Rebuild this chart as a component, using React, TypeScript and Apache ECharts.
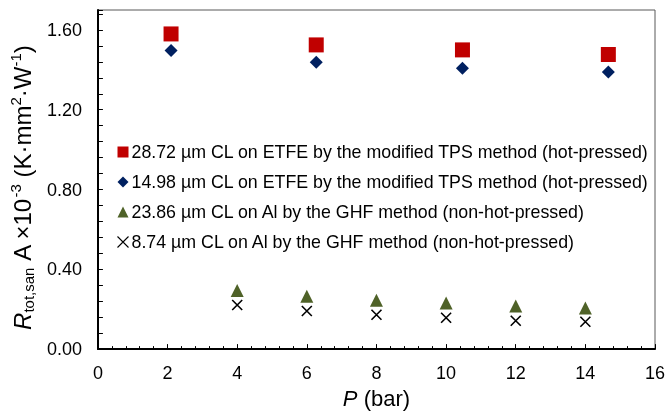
import React, { useEffect, useRef } from "react";
import * as echarts from "echarts";

const seriesNames = [
  "28.72 µm CL on ETFE by the modified TPS method (hot-pressed)",
  "14.98 µm CL on ETFE by the modified TPS method (hot-pressed)",
  "23.86 µm CL on Al by the GHF method (non-hot-pressed)",
  "8.74 µm CL on Al by the GHF method (non-hot-pressed)",
];
const etfeP = [2.1, 6.27, 10.47, 14.66];
const etfe2872 = [1.58, 1.525, 1.5, 1.477];
const etfe1498 = [1.497, 1.438, 1.408, 1.389];
const alP = [4, 6, 8, 10, 12, 14];
const al2386 = [0.294, 0.265, 0.245, 0.231, 0.216, 0.206];
const al874 = [0.221, 0.191, 0.172, 0.157, 0.142, 0.137];

const FONT = "'Liberation Sans', Arial, sans-serif";
const crossPath = "path://M0,0L10,10M10,0L0,10";

function pairs(xs: number[], ys: number[]) {
  return xs.map((x, i) => [x, ys[i]]);
}

export default function App() {
  const ref = useRef<HTMLDivElement>(null);
  useEffect(() => {
    if (!ref.current) return;
    const chart = echarts.init(ref.current, null, { renderer: "svg" });
    chart.setOption({
      animation: false,
      textStyle: { fontFamily: FONT },
      grid: {
        left: 94,
        width: 561,
        top: 10,
        height: 346,
        show: true,
        borderColor: "#595959",
        borderWidth: 1,
      },
      legend: {
        orient: "vertical",
        left: 115,
        top: 143,
        padding: 0,
        itemWidth: 11,
        itemHeight: 11,
        itemGap: 12,
        textStyle: { fontSize: 17.8, color: "#000", fontFamily: FONT, padding: [0, 0, 0, -2] },
        data: [
          { name: seriesNames[0], icon: "rect" },
          { name: seriesNames[1], icon: "diamond" },
          { name: seriesNames[2], icon: "triangle" },
          {
            name: seriesNames[3],
            icon: crossPath,
            itemStyle: { color: "none", borderColor: "#000", borderWidth: 1.1 },
          },
        ],
      },
      xAxis: {
        type: "value",
        min: 0,
        max: 16,
        interval: 2,
        name: "{i|P} (bar)",
        nameLocation: "middle",
        nameGap: 36,
        nameTextStyle: {
          fontSize: 22,
          color: "#000",
          fontFamily: FONT,
          rich: { i: { fontStyle: "italic", fontSize: 22, fontFamily: FONT } },
        },
        axisLine: { show: true, lineStyle: { color: "#000", width: 2 } },
        axisTick: { show: true, inside: true, length: 5, lineStyle: { color: "#000" } },
        minorTick: { show: true, splitNumber: 5, length: 3, lineStyle: { color: "#000" } },
        axisLabel: { fontSize: 18, color: "#000", margin: 15, fontFamily: FONT },
        splitLine: { show: false },
      },
      yAxis: {
        type: "value",
        min: 0,
        max: 1.7,
        interval: 0.4,
        name:
          "{i|R}{sub|tot,san}{n| A ×10}{sup|-3}{n| (K·mm}{sup|2}{n|·W}{sup|-1}{n|)}",
        nameLocation: "middle",
        nameGap: 60,
        nameRotate: 90,
        nameTextStyle: {
          color: "#000",
          fontFamily: FONT,
          padding: [0, 16, 0, 0],
          rich: {
            i: { fontStyle: "italic", fontSize: 24, fontFamily: FONT, lineHeight: 28 },
            n: { fontSize: 24, fontFamily: FONT, lineHeight: 28 },
            sub: { fontSize: 15, fontFamily: FONT, verticalAlign: "bottom", lineHeight: 28 },
            sup: { fontSize: 15, fontFamily: FONT, verticalAlign: "top", lineHeight: 28 },
          },
        },
        axisLine: { show: true, lineStyle: { color: "#000", width: 2 } },
        axisTick: { show: true, inside: true, length: 5, lineStyle: { color: "#000" } },
        minorTick: { show: true, splitNumber: 5, length: 5, lineStyle: { color: "#000" } },
        axisLabel: {
          fontSize: 18,
          color: "#000",
          margin: 16,
          fontFamily: FONT,
          showMaxLabel: false,
          formatter: (v: number) => v.toFixed(2),
        },
        splitLine: { show: false },
      },
      series: [
        {
          name: seriesNames[0],
          type: "scatter",
          symbol: "rect",
          symbolSize: 15,
          itemStyle: { color: "#C00000", opacity: 1 },
          data: pairs(etfeP, etfe2872),
          z: 3,
        },
        {
          name: seriesNames[1],
          type: "scatter",
          symbol: "diamond",
          symbolSize: 13,
          itemStyle: { color: "#002060", opacity: 1 },
          data: pairs(etfeP, etfe1498),
          z: 4,
        },
        {
          name: seriesNames[2],
          type: "scatter",
          symbol: "triangle",
          symbolSize: 13,
          itemStyle: { color: "#4F6228", opacity: 1 },
          data: pairs(alP, al2386),
          z: 3,
        },
        {
          name: seriesNames[3],
          type: "scatter",
          symbol: crossPath,
          symbolSize: 10,
          itemStyle: { color: "none", borderColor: "#000", borderWidth: 1.6, opacity: 1 },
          data: pairs(alP, al874),
          z: 4,
        },
      ],
    });
    return () => chart.dispose();
  }, []);
  return (
    <div
      ref={ref}
      style={{ position: "fixed", left: 0, top: 0, width: 670, height: 414 }}
    />
  );
}
